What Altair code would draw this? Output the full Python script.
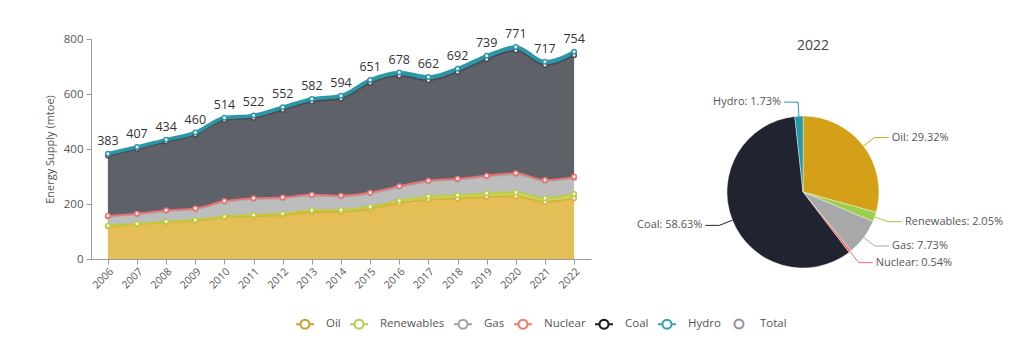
import altair as alt
import pandas as pd
import numpy as np

# ---------------- data ----------------
years = list(range(2006, 2023))
total = [383, 407, 434, 460, 514, 522, 552, 582, 594, 651, 678, 662, 692, 739, 771, 717, 754]
oil = [119, 126, 134, 139, 152, 156, 160, 171, 171, 182, 203, 216, 220, 226, 228, 207, 221]
renewables = [2, 2, 2, 3, 3, 4, 5, 6, 7, 8, 9, 11, 12, 13, 14, 14, 15.5]
gas = [33.5, 34.5, 38.5, 39.5, 53, 58, 56, 54, 49, 48, 49.5, 54.5, 56.5, 60.5, 66, 62, 58.3]
nuclear = [2.5, 2.5, 2.5, 2.5, 3, 3, 3, 3, 3, 3, 3.5, 3.5, 3.5, 3.5, 4, 4, 4.1]
coal = [219, 235, 249, 268, 294, 292, 318, 338, 353, 399, 401, 365, 388, 423, 446, 418, 442]
hydro = [7, 7, 8, 8, 9, 9, 10, 10, 11, 11, 12, 12, 12, 13, 13, 12, 13]

series_names = ["Oil", "Renewables", "Gas", "Nuclear", "Coal", "Hydro"]
total_name = ["Total"]

pie_year = "2022"
pie_labels = ["Oil", "Renewables", "Gas", "Nuclear", "Coal", "Hydro"]
pie_pct = [29.32, 2.05, 7.73, 0.54, 58.63, 1.73]

# ---------------- styles ----------------
area_colors = ["#E4BE57", "#C9D466", "#BDBDBD", "#EE8C8C", "#5F6169", "#2E9CAB"]
line_colors = ["#D9B03A", "#B9CF3C", "#A8A8A8", "#EE6F6F", "#4A4C54", "#2A98A8"]
legend_colors = ["#C9A22C", "#B6CC5C", "#A3A3A3", "#EF7B6C", "#1C1C1C", "#3FA0B1"]
total_color = ["#9C8DA8"]
pie_colors = ["#D4A017", "#9CCF4E", "#A8A8A8", "#F06B6B", "#1F2430", "#2499A9"]

FONT = "Open Sans"
TXT = "#555555"

# legend symbol paths (circle approximated by a polygon)
_ang = np.linspace(0, 2 * np.pi, 25)[:-1]
_cr = 0.5
_circ = "M" + "L".join(f"{_cr * np.cos(a):.3f},{_cr * np.sin(a):.3f}" for a in _ang) + "Z"
line_shape = f"M-1,0L-{_cr},0M{_cr},0L1,0" + _circ
circle_shape = _circ

# ---------------- derived tables ----------------
vals = [oil, renewables, gas, nuclear, coal, hydro]
rows = []
cum = np.zeros(len(years))
for i, (name, v) in enumerate(zip(series_names, vals)):
    v = np.array(v, dtype=float)
    for j, y in enumerate(years):
        rows.append({"year": y, "series": name, "order": i, "value": v[j],
                     "lower": cum[j], "upper": cum[j] + v[j]})
    cum = cum + v
df = pd.DataFrame(rows)
tot_df = pd.DataFrame({"year": years, "total": total, "top": cum})
leg_df = pd.DataFrame({"series": series_names})
leg2_df = pd.DataFrame({"tseries": total_name})

x_enc = alt.X("year:Q",
              scale=alt.Scale(domain=[2005.42, 2022.58], nice=False, zero=False),
              axis=alt.Axis(values=years, format="d", labelAngle=-45, labelAlign="right",
                            labelBaseline="top", labelFontSize=10.5, labelColor=TXT,
                            tickSize=5, labelPadding=2, title=None, grid=False,
                            domainColor="#9a9a9a", tickColor="#9a9a9a"))
y_axis = alt.Axis(values=[0, 200, 400, 600, 800], grid=False, title="Energy Supply (mtoe)",
                  titleFontSize=11, titleFontWeight="normal", titleColor=TXT,
                  labelFontSize=11.5, labelColor=TXT, tickSize=5, labelPadding=3,
                  titlePadding=8, domainColor="#9a9a9a", tickColor="#9a9a9a")
y_scale = alt.Scale(domain=[0, 800], nice=False)

base = alt.Chart(df)
areas = base.mark_area(interpolate="monotone").encode(
    x=x_enc,
    y=alt.Y("upper:Q", scale=y_scale, axis=y_axis),
    y2="lower:Q",
    color=alt.Color("series:N", scale=alt.Scale(domain=series_names, range=area_colors), legend=None),
    order=alt.Order("order:Q"),
)
lines = base.transform_filter("datum.series != 'Hydro'").mark_line(
    interpolate="monotone", strokeWidth=1.8).encode(
    x=x_enc,
    y=alt.Y("upper:Q", scale=y_scale, axis=y_axis),
    color=alt.Color("series:N", scale=alt.Scale(domain=series_names, range=line_colors), legend=None),
)
hydro_line = base.transform_filter("datum.series == 'Hydro'").mark_line(
    interpolate="monotone", strokeWidth=3.5, color="#2A98A8").encode(
    x=x_enc,
    y=alt.Y("upper:Q", scale=y_scale, axis=y_axis),
)
points = base.mark_point(filled=False, fill="#f4f4f4", size=20, strokeWidth=1.5, opacity=1).encode(
    x=x_enc,
    y=alt.Y("upper:Q", scale=y_scale, axis=y_axis),
    color=alt.Color("series:N", scale=alt.Scale(domain=series_names, range=line_colors), legend=None),
)
labels = alt.Chart(tot_df).mark_text(baseline="bottom", dy=-6, fontSize=12.5, color="#333333",
                                     font=FONT).encode(
    x=x_enc,
    y=alt.Y("top:Q", scale=y_scale, axis=y_axis),
    text=alt.Text("total:Q", format="d"),
)
leg_common = dict(orient="none", direction="horizontal", title=None,
                  labelFontSize=11.5, labelColor=TXT, labelFont=FONT, symbolSize=324,
                  symbolStrokeWidth=2, symbolOpacity=1, columnPadding=5, labelOffset=11,
                  symbolFillColor="transparent")
leg1 = alt.Legend(legendX=204, legendY=275, symbolType=line_shape, **leg_common)
leg2 = alt.Legend(legendX=638, legendY=275, symbolType=circle_shape, **leg_common)
legend_layer = alt.Chart(leg_df).mark_point(filled=False, size=0, opacity=1).encode(
    x=alt.value(0), y=alt.value(0),
    color=alt.Color("series:N", scale=alt.Scale(domain=series_names, range=legend_colors), legend=leg1),
)
legend_layer2 = alt.Chart(leg2_df).mark_point(filled=False, size=0, opacity=1).encode(
    x=alt.value(0), y=alt.value(0),
    color=alt.Color("tseries:N", scale=alt.Scale(domain=total_name, range=total_color), legend=leg2),
)

left = alt.layer(areas, lines, hydro_line, points, labels, legend_layer, legend_layer2).resolve_scale(
    color="independent").properties(width=500, height=220)

# ---------------- pie ----------------
PW, PH, R = 300, 306, 76
pct = np.array(pie_pct)
start = np.concatenate([[0], np.cumsum(pct)[:-1]])
mid = (start + pct / 2) / 100 * 2 * np.pi
prow = []
trow = []
for i, name in enumerate(pie_labels):
    s, c = np.sin(mid[i]), np.cos(mid[i])
    ex, ey = R * s, R * c
    bx, by = (R + 14) * s, (R + 14) * c
    side = 1 if s >= 0 else -1
    fx = bx + side * 14
    for k, (px, py) in enumerate([(ex, ey), (bx, by), (fx, by)]):
        prow.append({"series": name, "k": k, "px": px, "py": py})
    trow.append({"series": name, "tx": fx + side * 3, "ty": by, "side": side,
                 "label": f"{name}: {pie_pct[i]:.2f}%"})
pie_df = pd.DataFrame({"series": pie_labels, "pct": pie_pct, "order": range(len(pie_labels))})
lead_df = pd.DataFrame(prow)
txt_df = pd.DataFrame(trow)

px_scale = alt.Scale(domain=[-PW / 2, PW / 2], nice=False, zero=False)
py_scale = alt.Scale(domain=[-PH / 2, PH / 2], nice=False, zero=False)
pie_color = alt.Color("series:N", scale=alt.Scale(domain=pie_labels, range=pie_colors), legend=None)

arcs = alt.Chart(pie_df).mark_arc(outerRadius=R, stroke="white", strokeWidth=0.4).encode(
    theta=alt.Theta("pct:Q", stack=True),
    color=pie_color,
    order=alt.Order("order:Q"),
)
leaders = alt.Chart(lead_df).mark_line(strokeWidth=1).encode(
    x=alt.X("px:Q", scale=px_scale, axis=None),
    y=alt.Y("py:Q", scale=py_scale, axis=None),
    detail="series:N",
    order="k:Q",
    color=pie_color,
)
txt_r = alt.Chart(txt_df).transform_filter("datum.side > 0").mark_text(
    align="left", baseline="middle", fontSize=11, color=TXT, font=FONT).encode(
    x=alt.X("tx:Q", scale=px_scale, axis=None),
    y=alt.Y("ty:Q", scale=py_scale, axis=None),
    text="label:N",
)
txt_l = alt.Chart(txt_df).transform_filter("datum.side < 0").mark_text(
    align="right", baseline="middle", fontSize=11, color=TXT, font=FONT).encode(
    x=alt.X("tx:Q", scale=px_scale, axis=None),
    y=alt.Y("ty:Q", scale=py_scale, axis=None),
    text="label:N",
)
pie = alt.layer(arcs, leaders, txt_r, txt_l).properties(
    width=PW, height=PH,
    title=alt.TitleParams(pie_year, fontSize=14, fontWeight="normal", color="#444444",
                          font=FONT, offset=-14, dx=10, anchor="middle"))

chart = alt.hconcat(left, pie, spacing=62, bounds="flush").resolve_scale(
    color="independent").properties(
    padding={"left": 44, "top": 27, "right": 5, "bottom": 5}
).configure(font=FONT).configure_view(stroke=None)

chart.save("out.html", embed_options={"renderer": "svg", "actions": False})
